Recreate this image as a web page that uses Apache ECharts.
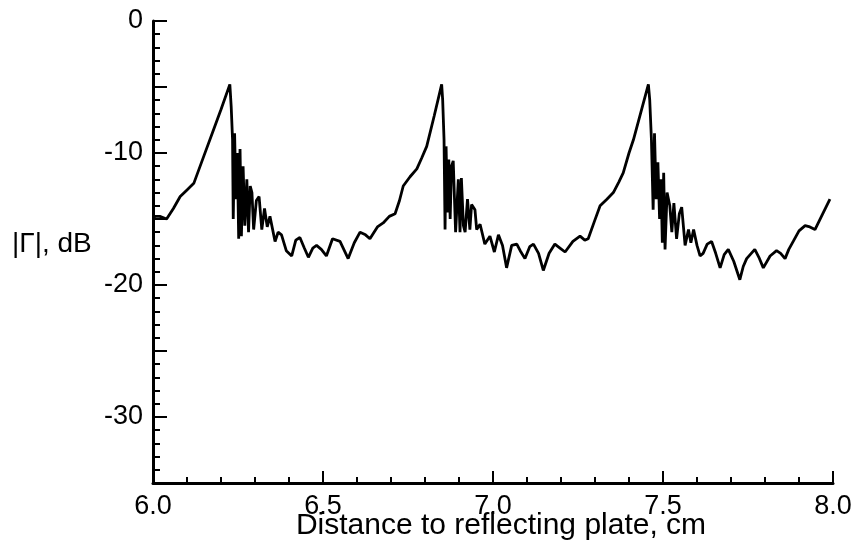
<!DOCTYPE html>
<html>
<head>
<meta charset="utf-8">
<script src="https://cdn.jsdelivr.net/npm/echarts@6/dist/echarts.min.js"></script>
<style>
html,body{margin:0;padding:0;background:#fff;}
#chart{width:859px;height:550px;}
</style>
</head>
<body>
<div id="chart"></div>
<script>
// Distance to reflecting plate (cm)
const distanceCm = [
6.000,6.006,6.020,6.040,6.060,6.080,6.100,6.120,6.150,6.180,6.200,6.226,
6.230,6.234,6.236,6.240,6.244,6.248,6.252,6.256,6.260,6.265,6.270,6.276,6.281,6.286,6.291,6.296,6.304,6.312,6.320,6.328,6.336,6.344,
6.359,6.368,6.378,6.392,6.408,6.420,6.432,6.445,6.457,6.470,6.481,6.495,6.510,6.528,6.550,6.574,6.592,6.609,6.625,6.638,6.660,6.677,6.695,6.712,6.725,6.736,6.756,6.776,6.790,6.805,6.827,6.849,
6.852,6.856,6.859,6.862,6.866,6.870,6.874,6.878,6.883,6.890,6.898,6.903,6.907,6.913,6.918,6.925,6.932,6.937,6.947,6.952,6.962,6.976,6.991,7.004,7.016,7.028,7.040,7.055,7.070,7.080,7.094,7.108,7.119,7.134,7.148,7.165,7.182,7.197,7.212,7.235,7.256,7.270,7.280,7.298,7.315,7.335,7.354,7.370,7.383,7.400,7.413,7.435,7.457,
7.461,7.466,7.471,7.475,7.480,7.485,7.490,7.494,7.498,7.502,7.506,7.512,7.520,7.526,7.532,7.540,7.548,7.555,7.565,7.575,7.582,7.590,7.600,7.609,7.618,7.630,7.643,7.655,7.668,7.680,7.692,7.708,7.726,7.736,7.746,7.770,7.782,7.795,7.815,7.834,7.846,7.859,7.870,7.883,7.900,7.918,7.932,7.947,7.970,7.991
];
// |Gamma| (dB)
const gammaDb = [
-15.0,-14.8,-14.8,-15.0,-14.2,-13.3,-12.8,-12.3,-10.2,-8.1,-6.7,-4.8,
-6.5,-9.0,-15.0,-8.5,-13.5,-10.0,-16.5,-9.7,-16.3,-11.0,-15.5,-12.0,-16.0,-12.5,-13.0,-15.8,-13.6,-13.3,-15.8,-14.2,-15.6,-14.8,
-16.7,-16.0,-16.2,-17.4,-17.8,-16.6,-16.4,-17.2,-17.9,-17.2,-17.0,-17.3,-17.8,-16.5,-16.7,-18.0,-16.8,-16.0,-16.2,-16.5,-15.6,-15.3,-14.8,-14.6,-13.6,-12.5,-11.8,-11.2,-10.4,-9.5,-7.2,-4.8,
-6.0,-9.0,-15.8,-9.5,-14.5,-10.5,-15.0,-11.0,-10.6,-16.0,-12.0,-16.0,-11.9,-15.5,-16.0,-13.5,-15.8,-13.9,-14.3,-15.8,-15.4,-16.9,-16.3,-17.5,-16.2,-17.0,-18.7,-17.0,-16.9,-17.4,-18.0,-17.1,-16.9,-17.6,-18.9,-17.6,-16.9,-17.2,-17.5,-16.7,-16.3,-16.6,-16.5,-15.2,-14.0,-13.5,-13.0,-12.2,-11.5,-10.0,-9.0,-6.9,-4.8,
-6.0,-9.0,-14.3,-8.5,-13.5,-10.7,-15.0,-12.0,-16.8,-11.5,-17.3,-13.0,-14.0,-16.0,-13.8,-16.5,-14.6,-14.1,-17.0,-15.8,-16.8,-15.8,-17.0,-17.8,-17.6,-16.9,-16.7,-17.6,-18.7,-17.7,-17.3,-18.2,-19.6,-18.6,-18.0,-17.3,-17.9,-18.7,-17.8,-17.4,-17.6,-18.0,-17.3,-16.7,-15.9,-15.5,-15.6,-15.8,-14.6,-13.5
];
const xTitle = "Distance to reflecting plate, cm";
const yTitle = "|Γ|, dB";

const chart = echarts.init(document.getElementById('chart'));
const FONT = '"Liberation Sans", Arial, Helvetica, sans-serif';
const seriesData = distanceCm.map((x, i) => [x, gammaDb[i]]);

chart.setOption({
  animation: false,
  backgroundColor: '#fff',
  grid: { left: 153, right: 26, top: 21, bottom: 67, containLabel: false },
  xAxis: {
    type: 'value', min: 6, max: 8, interval: 0.5,
    axisLine: { show: true, onZero: false, lineStyle: { color: '#000', width: 3 } },
    axisTick: { show: true, inside: true, length: 12, lineStyle: { color: '#000', width: 2 } },
    minorTick: { show: true, splitNumber: 5, length: 6, lineStyle: { color: '#000', width: 2 } },
    splitLine: { show: false },
    axisLabel: { color: '#000', fontSize: 27, fontFamily: FONT, margin: 10,
      formatter: v => v.toFixed(1) }
  },
  yAxis: {
    type: 'value', min: -35, max: 0, interval: 5,
    axisLine: { show: true, onZero: false, lineStyle: { color: '#000', width: 3 } },
    axisTick: { show: true, inside: true, length: 14, lineStyle: { color: '#000', width: 2 } },
    minorTick: { show: true, splitNumber: 5, length: 7, lineStyle: { color: '#000', width: 2 } },
    splitLine: { show: false },
    axisLabel: { color: '#000', fontSize: 27, fontFamily: FONT, margin: 10,
      formatter: v => (v % 10 === 0 ? String(v) : '') }
  },
  graphic: [
    { type: 'text', left: 12, top: 230,
      style: { text: yTitle, fontSize: 28, fontFamily: FONT, fill: '#000' } },
    { type: 'text', x: 501, y: 526,
      style: { text: xTitle, fontSize: 30, fontFamily: FONT, fill: '#000', align: 'center', verticalAlign: 'middle' } }
  ],
  series: [{
    type: 'line', data: seriesData, symbol: 'none', smooth: false,
    lineStyle: { color: '#000', width: 2.8 }
  }]
});
</script>
</body>
</html>
